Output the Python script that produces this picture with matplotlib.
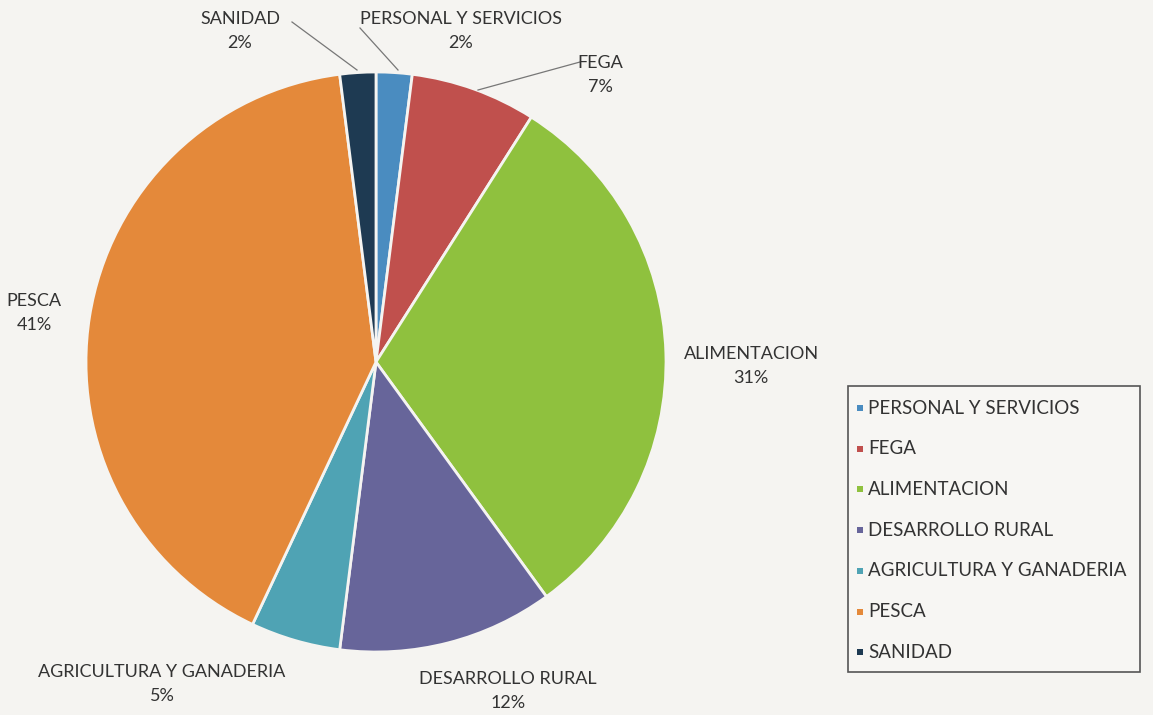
import matplotlib
matplotlib.use("Agg")
import matplotlib.pyplot as plt
from matplotlib.patches import Rectangle

categories = ["PERSONAL Y SERVICIOS", "FEGA", "ALIMENTACION", "DESARROLLO RURAL",
              "AGRICULTURA Y GANADERIA", "PESCA", "SANIDAD"]
values = [2, 7, 31, 12, 5, 41, 2]
colors = ["#4a8cc0", "#c0504d", "#8fc13e", "#67659a", "#4fa3b4", "#e4893a", "#1e3a52"]

# label positions in pixels (layout)
label_px = [(461, 31), (600, 75), (751, 366), (508, 691), (162, 684), (34, 313), (240, 31)]
# leader lines in pixels (layout)
leaders = {0: [(360, 28), (398, 70)], 1: [(580, 62), (478, 90)], 6: [(292, 22), (357, 70)]}

W, H = 1153, 715
fig = plt.figure(figsize=(W / 100, H / 100), dpi=100)
fig.patch.set_facecolor("#f5f4f1")
plt.rcParams['font.family'] = ['Lato', 'DejaVu Sans']

cx, cy, R = 376, 362, 290
ax = fig.add_axes([(cx - R) / W, (H - cy - R) / H, 2 * R / W, 2 * R / H])

wedges, _ = ax.pie(values, colors=colors, startangle=90, counterclock=False, radius=1,
                   wedgeprops=dict(edgecolor="#f5f4f1", linewidth=2))
ax.set_xlim(-1, 1)
ax.set_ylim(-1, 1)
ax.set_aspect("equal", adjustable="box")
ax.axis("off")

def to_data(px, py):
    return (px - cx) / R, (cy - py) / R

for i, (name, v) in enumerate(zip(categories, values)):
    x, y = to_data(*label_px[i])
    ax.text(x, y, f"{name}\n{v}%", ha="center", va="center", fontsize=13,
            color="#333333", linespacing=1.65, clip_on=False)

for i, pts in leaders.items():
    xs, ys = zip(*[to_data(*p) for p in pts])
    ax.plot(xs, ys, color="#777777", lw=0.9, clip_on=False)

# legend
lax = fig.add_axes([0, 0, 1, 1])
lax.set_xlim(0, W)
lax.set_ylim(H, 0)
lax.axis("off")
lax.add_patch(Rectangle((848, 386), 292, 286, fill=True, facecolor="#f7f6f3",
                        edgecolor="#555555", lw=1.2))
y0, dy = 408, 40.7
for i, (name, c) in enumerate(zip(categories, colors)):
    yy = y0 + i * dy
    lax.add_patch(Rectangle((857, yy - 3), 6, 6, facecolor=c, edgecolor="none"))
    lax.text(868, yy, name, ha="left", va="center", fontsize=13.5, color="#333333")

fig.savefig("out.png", dpi=100, facecolor=fig.get_facecolor())
